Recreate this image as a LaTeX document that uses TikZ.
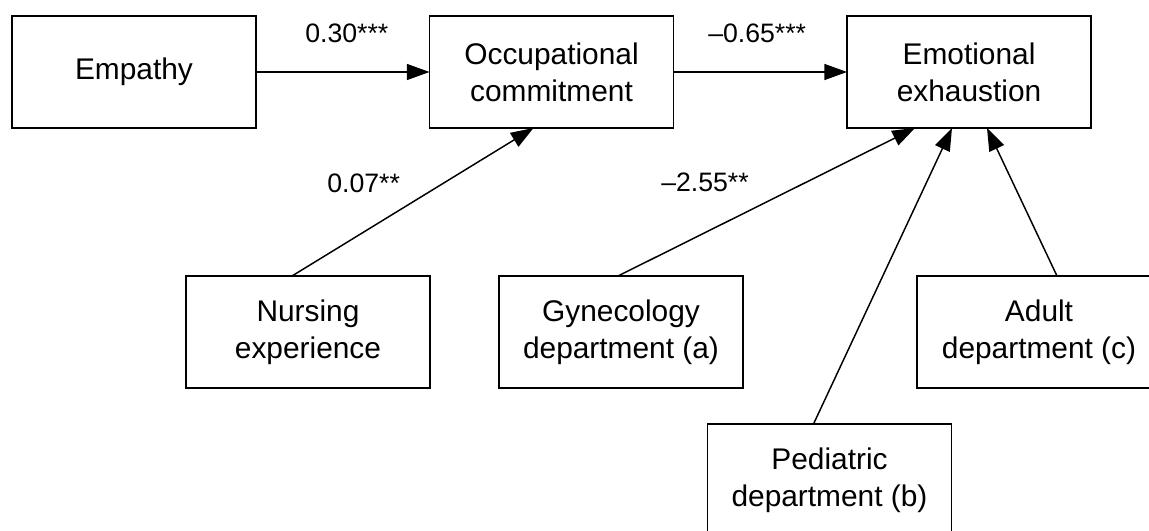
\documentclass[tikz,border=0pt]{standalone}
\usepackage{fontspec}
\setmainfont{Liberation Sans}
\usetikzlibrary{arrows.meta}
\begin{document}
\begin{tikzpicture}[x=0.75pt,y=-0.75pt,
  box/.style={draw,line width=1.1pt,inner sep=0pt,outer sep=0pt,
    minimum width=183pt,minimum height=84pt,align=center,
    font=\fontsize{22.4}{27.7}\selectfont},
  lab/.style={inner sep=0pt,anchor=base west,font=\fontsize{20}{23}\selectfont},
  conn/.style={line width=1.1pt,-{Triangle[length=17pt,width=12pt]}}]
\useasboundingbox (0,0) rectangle (1149,531);
\clip (0,0) rectangle (1149,531);
\node[box] (emp) at (134,72) {Empathy};
\node[box] (occ) at (551.5,72) {Occupational\\commitment};
\node[box] (ee) at (969,72) {Emotional\\exhaustion};
\node[box] (nur) at (308,332) {Nursing\\experience};
\node[box] (gyn) at (621,332) {Gynecology\\department (a)};
\node[box] (adu) at (1039,332) {Adult\\department (c)};
\node[box] (ped) at (829.5,480) {Pediatric\\department (b)};
\draw[conn] (emp) -- (occ);
\draw[conn] (occ) -- (ee);
\draw[conn] ([xshift=79.5pt]nur.north west) -- ([xshift=78pt]occ.south west);
\draw[conn] ([xshift=89.25pt]gyn.north west) -- ([xshift=51pt]ee.south west);
\draw[conn] ([xshift=79.5pt]ped.north west) -- ([xshift=78.75pt]ee.south west);
\draw[conn] ([xshift=105pt]adu.north west) -- ([xshift=105pt]ee.south west);
\node[lab] (l1) at (305,43) {0.30***};
\node[lab] (l2) at (708,43) {--0.65***};
\node[lab] (l3) at (327,192) {0.07**};
\node[lab] (l4) at (661,191) {--2.55**};
\end{tikzpicture}
\end{document}
